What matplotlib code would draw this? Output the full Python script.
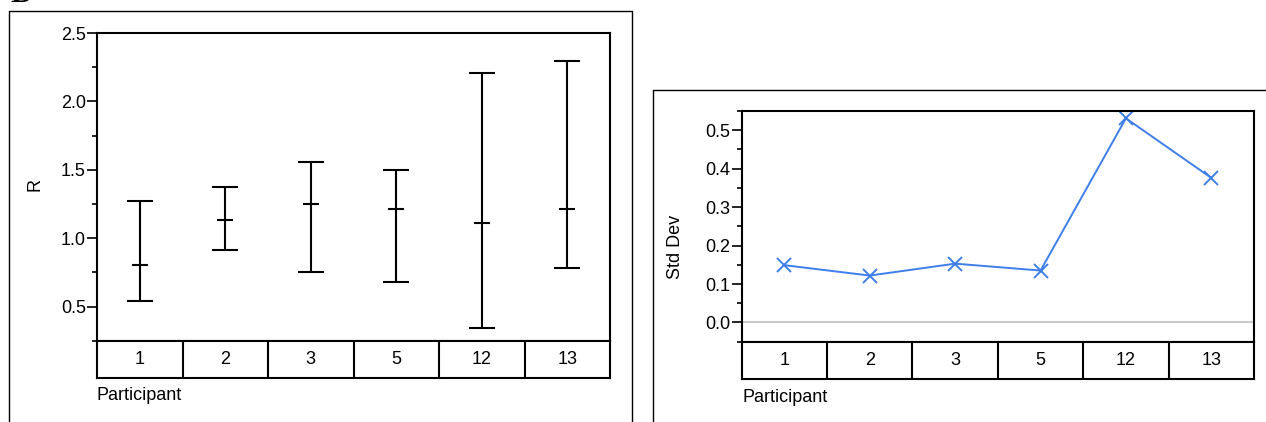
import matplotlib
matplotlib.use("Agg")
import numpy as np
import matplotlib.pyplot as plt
from matplotlib.lines import Line2D
from matplotlib.ticker import MultipleLocator, FormatStrFormatter

# ---------------------------------------------------------------------------
# Data
# ---------------------------------------------------------------------------
participants = ["1", "2", "3", "5", "12", "13"]
r_mean = [0.80, 1.13, 1.25, 1.21, 1.11, 1.21]
r_low = [0.54, 0.915, 0.75, 0.68, 0.34, 0.78]
r_high = [1.275, 1.375, 1.56, 1.50, 2.21, 2.295]
std_dev = [0.149, 0.122, 0.153, 0.135, 0.531, 0.376]

W, H = 1266, 422
plt.rcParams.update({
    "font.family": ["Liberation Sans", "DejaVu Sans"],
    "font.size": 13,
    "axes.linewidth": 1.5,
})

fig = plt.figure(figsize=(W / 100, H / 100), dpi=100)


def rect(x0, y0, x1, y1):
    """pixel box (top-left origin) -> figure fraction rect"""
    return [x0 / W, 1 - y1 / H, (x1 - x0) / W, (y1 - y0) / H]


def fline(xs, ys, lw=1.0):
    fig.add_artist(Line2D([x / W for x in xs], [1 - y / H for y in ys],
                          color="black", lw=lw, transform=fig.transFigure))


def style_y(ax, major, minor, fmt):
    ax.yaxis.set_major_locator(MultipleLocator(major))
    ax.yaxis.set_minor_locator(MultipleLocator(minor))
    ax.yaxis.set_major_formatter(FormatStrFormatter(fmt))
    ax.tick_params(axis="y", which="major", length=7, width=1.2, pad=1)
    ax.tick_params(axis="y", which="minor", length=3.6, width=1.2)
    ax.set_xticks([])
    ax.set_xlim(0, len(participants))


def category_table(box):
    axt = fig.add_axes(rect(*box))
    axt.set_xlim(0, len(participants))
    axt.set_ylim(0, 1)
    axt.set_xticks([])
    axt.set_yticks([])
    for i, p in enumerate(participants):
        if i > 0:
            axt.axvline(i, color="black", lw=1.5)
        axt.text(i + 0.5, 0.5, p, ha="center", va="center", fontsize=13)
    return axt


# outer panel frames
fline([9, 9, 632, 632], [H + 5, 11, 11, H + 5])
fline([653, 653, W + 5], [H + 5, 89.5, 89.5])
# panel letter, mostly above the top edge as in the reference
fig.text(10 / W, 1 - 2.5 / H, "B", family="Liberation Serif", weight="bold",
         fontsize=22, ha="left", va="baseline")

# --- Left panel: R ranges ---------------------------------------------------
x = np.arange(len(participants)) + 0.5
ax1 = fig.add_axes(rect(97, 33, 610, 340.7))
ax1.set_ylim(0.25, 2.5)
style_y(ax1, 0.5, 0.25, "%.1f")
yerr = [np.array(r_mean) - np.array(r_low), np.array(r_high) - np.array(r_mean)]
ax1.errorbar(x, r_mean, yerr=yerr, fmt="none", ecolor="black", elinewidth=1.5,
             capsize=9.7, capthick=1.5)
ax1.plot(x, r_mean, ls="none", marker="_", ms=11, mew=1.5, color="black")
category_table((97, 340.7, 610, 378))
fig.text(35 / W, 1 - 185 / H, "R", rotation=90, ha="center", va="center")
fig.text(97 / W, 1 - 395 / H, "Participant", ha="left", va="center")

# --- Right panel: Std Dev ---------------------------------------------------
ax2 = fig.add_axes(rect(741.7, 111, 1254, 341.7))
ax2.set_ylim(-0.05, 0.55)
style_y(ax2, 0.1, 0.05, "%.1f")
ax2.axhline(0, color="#c8c8c8", lw=1.5, zorder=0)
ax2.plot(x, std_dev, color="#3f7fea", lw=1.4, marker="x", ms=10, mew=1.4,
         clip_on=False)
category_table((741.7, 341.7, 1254, 379.3))
fig.text(675 / W, 1 - 247 / H, "Std Dev", rotation=90, ha="center", va="center")
fig.text(742 / W, 1 - 397 / H, "Participant", ha="left", va="center")

fig.savefig("out.png", dpi=100, facecolor="white")
